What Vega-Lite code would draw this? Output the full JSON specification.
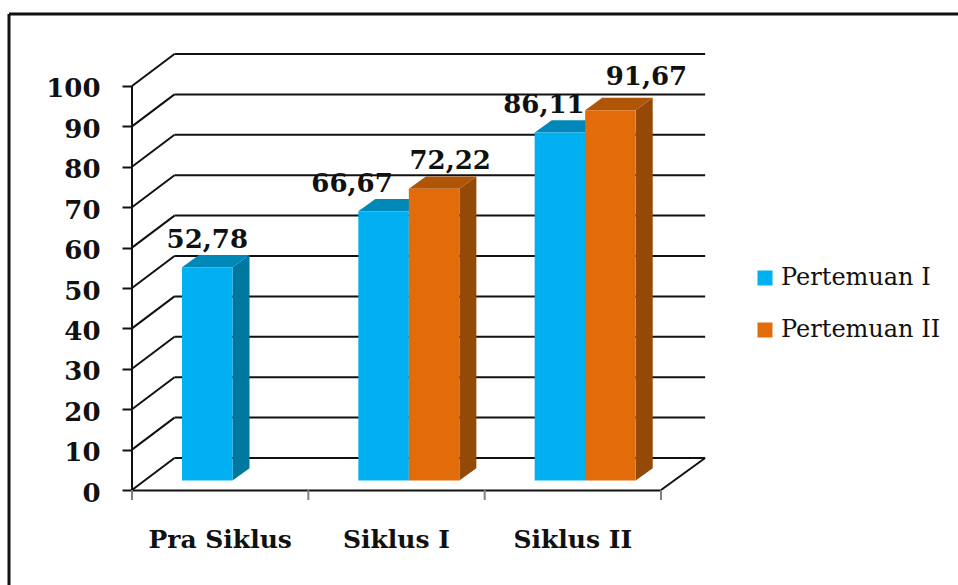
{"$schema":"https://vega.github.io/schema/vega-lite/v6.json","width":949,"height":571,"autosize":"none","padding":{"left":9,"top":14,"right":0,"bottom":0},"background":"white","config":{"view":{"stroke":null},"font":"DejaVu Serif"},"datasets":{"bars":[{"kategori":"Pra Siklus","seri":"Pertemuan I","nilai":52.78},{"kategori":"Siklus I","seri":"Pertemuan I","nilai":66.67},{"kategori":"Siklus I","seri":"Pertemuan II","nilai":72.22},{"kategori":"Siklus II","seri":"Pertemuan I","nilai":86.11},{"kategori":"Siklus II","seri":"Pertemuan II","nilai":91.67}],"ticks":[{"t":0},{"t":10},{"t":20},{"t":30},{"t":40},{"t":50},{"t":60},{"t":70},{"t":80},{"t":90},{"t":100}],"batas":[{"b":0},{"b":1},{"b":2},{"b":3}]},"resolve":{"scale":{"x":"independent","color":"independent"}},"layer":[{"data":{"name":"ticks"},"transform":[{"calculate":"datum.t+7.92","as":"back"}],"mark":{"type":"rule","color":"#111","strokeWidth":2},"encoding":{"x":{"datum":0.241,"type":"quantitative","scale":{"domain":[-0.6975,4.684],"nice":false,"zero":false},"axis":null},"x2":{"datum":3.25},"y":{"field":"back","type":"quantitative","scale":{"domain":[-23.51,117.82],"nice":false,"zero":false},"axis":{"values":[0,10,20,30,40,50,60,70,80,90,100],"title":null,"offset":-123,"domain":false,"grid":false,"tickColor":"#111","tickWidth":2,"tickSize":10,"labelPadding":22,"labelFont":"DejaVu Serif","labelFontWeight":"bold","labelFontSize":26,"labelColor":"#111","labelOffset":3}}}},{"data":{"name":"ticks"},"transform":[{"calculate":"datum.t+7.92","as":"back"}],"mark":{"type":"rule","color":"#111","strokeWidth":2},"encoding":{"x":{"datum":0,"type":"quantitative","scale":{"domain":[-0.6975,4.684],"nice":false,"zero":false},"axis":null},"x2":{"datum":0.241},"y":{"field":"t","type":"quantitative"},"y2":{"field":"back"}}},{"data":{"name":"ticks"},"transform":[{"filter":"datum.t===100"},{"calculate":"0","as":"base"}],"mark":{"type":"rule","color":"#111","strokeWidth":2},"encoding":{"x":{"datum":0,"type":"quantitative","scale":{"domain":[-0.6975,4.684],"nice":false,"zero":false},"axis":null},"y":{"field":"t","type":"quantitative"},"y2":{"field":"base"}}},{"data":{"name":"ticks"},"transform":[{"filter":"datum.t===0"},{"calculate":"7.92","as":"back"}],"mark":{"type":"rule","color":"#111","strokeWidth":2},"encoding":{"x":{"datum":3,"type":"quantitative","scale":{"domain":[-0.6975,4.684],"nice":false,"zero":false},"axis":null},"x2":{"datum":3.25},"y":{"field":"t","type":"quantitative"},"y2":{"field":"back"}}},{"data":{"name":"batas"},"transform":[{"calculate":"0","as":"atas"},{"calculate":"-2.48","as":"bawah"}],"mark":{"type":"rule","color":"#808080","strokeWidth":2},"encoding":{"x":{"field":"b","type":"quantitative","scale":{"domain":[-0.6975,4.684],"nice":false,"zero":false},"axis":null},"y":{"field":"atas","type":"quantitative"},"y2":{"field":"bawah"}}},{"data":{"name":"ticks"},"transform":[{"filter":"datum.t===100"},{"calculate":"117.82","as":"frame"}],"mark":{"type":"rule","color":"#111","strokeWidth":3},"encoding":{"x":{"datum":-0.6975,"type":"quantitative","scale":{"domain":[-0.6975,4.684],"nice":false,"zero":false},"axis":null},"x2":{"datum":4.684},"y":{"field":"frame","type":"quantitative"}}},{"data":{"name":"ticks"},"transform":[{"filter":"datum.t===100"},{"calculate":"117.82","as":"frame"},{"calculate":"-23.51","as":"frameBawah"}],"mark":{"type":"rule","color":"#111","strokeWidth":3},"encoding":{"x":{"datum":-0.6975,"type":"quantitative","scale":{"domain":[-0.6975,4.684],"nice":false,"zero":false},"axis":null},"y":{"field":"frame","type":"quantitative"},"y2":{"field":"frameBawah"}}},{"data":{"name":"bars"},"transform":[{"calculate":"indexof(['Pra Siklus','Siklus I','Siklus II'],datum.kategori)","as":"i"},{"calculate":"datum.seri==='Pertemuan I'?0:1","as":"j"},{"calculate":"[0,1]","as":"d"},{"flatten":["d"]},{"calculate":"datum.i+0.2836+(datum.j+1)*0.2864+datum.d*0.0964","as":"sx"},{"calculate":"datum.nilai+2.35+datum.d*3.04","as":"st"},{"calculate":"2.35+datum.d*3.04","as":"sb"}],"mark":{"type":"area","orient":"vertical","line":false},"encoding":{"x":{"field":"sx","type":"quantitative","scale":{"domain":[-0.6975,4.684],"nice":false,"zero":false},"axis":null},"y":{"field":"st","type":"quantitative","stack":null},"y2":{"field":"sb"},"detail":{"field":"kategori"},"color":{"field":"seri","type":"nominal","scale":{"domain":["Pertemuan I","Pertemuan II"],"range":["#00779F","#944A06"]},"legend":null}}},{"data":{"name":"bars"},"transform":[{"calculate":"indexof(['Pra Siklus','Siklus I','Siklus II'],datum.kategori)","as":"i"},{"calculate":"datum.seri==='Pertemuan I'?0:1","as":"j"},{"calculate":"[0,1]","as":"d"},{"flatten":["d"]},{"calculate":"datum.i+0.2836+datum.j*0.2864+datum.d*0.0964","as":"tx1"},{"calculate":"datum.tx1+0.2864","as":"tx2"},{"calculate":"datum.nilai+2.35+datum.d*3.04","as":"ty"}],"mark":{"type":"area","orient":"horizontal","line":false},"encoding":{"x":{"field":"tx1","type":"quantitative","stack":null,"scale":{"domain":[-0.6975,4.684],"nice":false,"zero":false},"axis":null},"x2":{"field":"tx2"},"y":{"field":"ty","type":"quantitative"},"detail":{"field":"kategori"},"color":{"field":"seri","type":"nominal","scale":{"domain":["Pertemuan I","Pertemuan II"],"range":["#0089B8","#AE5508"]},"legend":null}}},{"data":{"name":"bars"},"mark":{"type":"bar","yOffset":-9.5,"y2Offset":-9.5},"encoding":{"x":{"field":"kategori","type":"nominal","sort":["Pra Siklus","Siklus I","Siklus II"],"scale":{"domain":["Pra Siklus","Siklus I","Siklus II"],"range":[123,652],"paddingInner":0.4272,"paddingOuter":0.2136},"axis":{"title":null,"offset":-95,"labelAngle":0,"ticks":false,"domainColor":"#111","domainWidth":2,"labelPadding":37,"labelFont":"DejaVu Serif","labelFontWeight":"bold","labelFontSize":25,"labelColor":"#111"}},"xOffset":{"field":"seri","type":"nominal","scale":{"domain":["Pertemuan I","Pertemuan II"],"range":[12.33,113.33],"paddingInner":0,"paddingOuter":0}},"y":{"field":"nilai","type":"quantitative","stack":null},"y2":{"datum":0},"color":{"field":"seri","type":"nominal","scale":{"domain":["Pertemuan I","Pertemuan II"],"range":["#00B0F0","#E36C0A"]},"legend":{"title":null,"orient":"none","legendX":744,"legendY":252,"symbolType":"square","symbolSize":225,"symbolStrokeWidth":0,"labelFont":"DejaVu Serif","labelFontSize":24,"labelColor":"#111","labelOffset":4,"rowPadding":28}}}},{"data":{"name":"bars"},"transform":[{"calculate":"indexof(['Pra Siklus','Siklus I','Siklus II'],datum.kategori)","as":"i"},{"calculate":"datum.seri==='Pertemuan I'?0:1","as":"j"},{"calculate":"replace(format(datum.nilai,'.2f'),'.',',')","as":"label"},{"calculate":"datum.i+0.2836+datum.j*0.2864+0.1432+({'52,78':0,'66,67':-0.179,'72,22':0.091,'86,11':-0.091,'91,67':0.204})[datum.label]","as":"lx"},{"calculate":"datum.nilai+2.35+(datum.label==='91,67'?8.2:6.8)","as":"ly"}],"mark":{"type":"text","font":"DejaVu Serif","fontWeight":"bold","fontSize":26,"color":"#111","baseline":"middle"},"encoding":{"x":{"field":"lx","type":"quantitative","scale":{"domain":[-0.6975,4.684],"nice":false,"zero":false},"axis":null},"y":{"field":"ly","type":"quantitative"},"text":{"field":"label","type":"nominal"}}}]}
